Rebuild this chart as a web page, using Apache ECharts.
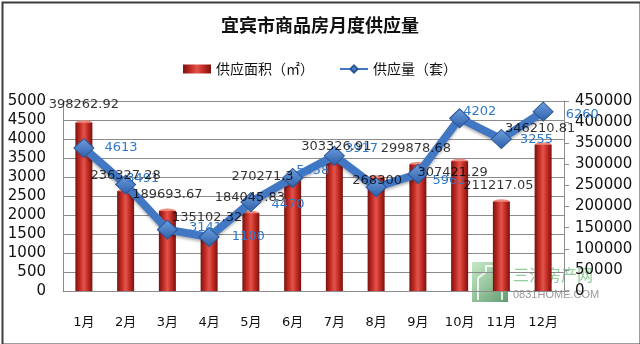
<!DOCTYPE html>
<html>
<head>
<meta charset="utf-8">
<script src="https://cdn.jsdelivr.net/npm/echarts@6/dist/echarts.min.js"></script>
<style>
  html, body { margin: 0; padding: 0; background: #fff; }
  #chart { width: 640px; height: 344px; }
</style>
</head>
<body>
<div id="chart"></div>
<script>
// Monthly categories
const months = ['1月', '2月', '3月', '4月', '5月', '6月', '7月', '8月', '9月', '10月', '11月', '12月'];

// Supply floor area (㎡), right axis
const areaValues = [398262.92, 236327.28, 189693.67, 135102.32, 184045.83, 270271.3,
                    303326.91, 268300, 299878.68, 307421.29, 211217.05, 346210.81];

// Supply units (套), plotted on the left axis
const unitValues = [3760, 2800, 1615, 1420, 2340, 2975, 3560, 2730, 3080, 4545, 4000, 4720];

// Unit counts printed beside the line markers
const unitLabels = ['4613', '3491', '3141', '1100', '4470', '5458', '3917', '', '5961', '4202', '3255', '6260'];

// Axis tick values
const leftTicks = [0, 500, 1000, 1500, 2000, 2500, 3000, 3500, 4000, 4500, 5000];
const rightTicks = [0, 50000, 100000, 150000, 200000, 250000, 300000, 350000, 400000, 450000];

// Label nudges (pixels) for crowded spots
const areaLabelShift = [[0, -2], [0, 0], [0, 0], [-2, 0], [-1, 0], [-30, 16], [2, 0], [1, 19], [-2, 0], [-7, 27], [-3, 0], [-3, 0]];
const unitLabelShift = [[0, 0], [-20, -6], [1, -2], [2, 0], [0, 3], [-17, -7], [-10, -7], [0, 0], [-6, 7], [-17, -7], [-2, 1], [2, 3]];

const NUM_FONT = '"DejaVu Sans", "Noto Sans CJK SC", sans-serif';
const CJK_FONT = '"Noto Sans CJK SC", sans-serif';

const chart = echarts.init(document.getElementById('chart'), null, { renderer: 'canvas' });

const barFill = new echarts.graphic.LinearGradient(0, 0, 1, 0, [
  { offset: 0, color: '#7a120e' },
  { offset: 0.28, color: '#c42d26' },
  { offset: 0.5, color: '#e2554b' },
  { offset: 0.72, color: '#c42d26' },
  { offset: 1, color: '#7a120e' }
]);

const diamondFill = new echarts.graphic.LinearGradient(0, 0, 0, 1, [
  { offset: 0, color: '#6f9fe0' },
  { offset: 1, color: '#2d5fa8' }
]);

const plainNumber = v => String(v);

const option = {
  animation: false,
  backgroundColor: '#ffffff',
  title: {
    text: '宜宾市商品房月度供应量',
    left: 'center',
    top: 16,
    padding: 0,
    textStyle: { fontFamily: CJK_FONT, fontSize: 18, fontWeight: 'bold', color: '#111' }
  },
  legend: {
    top: 62,
    left: 'center',
    padding: 0,
    itemGap: 25,
    itemWidth: 28,
    itemHeight: 9,
    data: [
      { name: '供应面积（㎡）', icon: 'rect' },
      { name: '供应量（套）' }
    ],
    textStyle: { fontFamily: CJK_FONT, fontSize: 14, color: '#111' }
  },
  grid: { left: 63, right: 76, top: 101, bottom: 53 },
  xAxis: {
    type: 'category',
    data: months,
    axisLine: { lineStyle: { color: '#8c8c8c' } },
    axisTick: { show: false },
    axisLabel: { margin: 25, fontSize: 13, color: '#111', fontFamily: NUM_FONT }
  },
  yAxis: [
    {
      type: 'value',
      min: leftTicks[0],
      max: leftTicks[leftTicks.length - 1],
      interval: leftTicks[1] - leftTicks[0],
      axisLine: { show: true, lineStyle: { color: '#8c8c8c' } },
      axisTick: { show: false },
      splitLine: { lineStyle: { color: '#8c8c8c' } },
      axisLabel: { margin: 17, fontSize: 15, color: '#111', fontFamily: NUM_FONT, formatter: plainNumber }
    },
    {
      type: 'value',
      position: 'right',
      min: rightTicks[0],
      max: rightTicks[rightTicks.length - 1],
      interval: rightTicks[1] - rightTicks[0],
      axisLine: { show: true, lineStyle: { color: '#8c8c8c' } },
      axisTick: { show: true, length: 5, lineStyle: { color: '#8c8c8c' } },
      splitLine: { show: false },
      axisLabel: { margin: 11, fontSize: 15, color: '#111', fontFamily: NUM_FONT, formatter: plainNumber }
    }
  ],
  series: [
    {
      name: '供应面积（㎡）',
      type: 'bar',
      yAxisIndex: 1,
      data: areaValues,
      barWidth: 17,
      itemStyle: { color: barFill },
      z: 2
    },
    {
      // lighter rounded cap on top of each column
      type: 'pictorialBar',
      yAxisIndex: 1,
      data: areaValues,
      symbol: 'circle',
      symbolSize: [17, 5],
      symbolPosition: 'end',
      symbolOffset: [0, '-50%'],
      itemStyle: { color: '#ee8a80' },
      silent: true,
      z: 2
    },
    {
      name: '供应量（套）',
      type: 'line',
      yAxisIndex: 0,
      data: unitValues.map((v, i) => ({
        value: v,
        label: { formatter: unitLabels[i], offset: unitLabelShift[i] }
      })),
      symbol: 'diamond',
      symbolSize: [20, 19],
      lineStyle: {
        width: 8,
        color: '#4277c3',
        shadowColor: 'rgba(0,0,0,0.3)',
        shadowBlur: 3,
        shadowOffsetY: 2
      },
      itemStyle: { color: diamondFill, borderColor: '#2a5696', borderWidth: 1 },
      label: {
        show: true,
        position: 'right',
        distance: 10,
        color: '#2f79c9',
        fontSize: 13,
        fontFamily: NUM_FONT
      },
      z: 3
    },
    {
      // value labels for the area columns, kept above the line
      type: 'scatter',
      yAxisIndex: 1,
      data: areaValues.map((v, i) => ({
        value: v,
        label: { offset: areaLabelShift[i] }
      })),
      symbolSize: 1,
      itemStyle: { color: 'rgba(0,0,0,0)' },
      label: {
        show: true,
        position: 'top',
        distance: 9,
        color: '#000',
        fontSize: 13,
        fontFamily: NUM_FONT,
        formatter: p => String(areaValues[p.dataIndex])
      },
      silent: true,
      z: 6
    }
  ],
  graphic: [
    {
      // site watermark
      type: 'group',
      left: 472,
      top: 262,
      silent: true,
      z: 10,
      children: [
        {
          type: 'rect',
          shape: { x: 0, y: 0, width: 36, height: 40 },
          style: {
            fill: new echarts.graphic.LinearGradient(0, 0, 1, 1, [
              { offset: 0, color: 'rgba(150,210,150,0.55)' },
              { offset: 1, color: 'rgba(40,120,60,0.75)' }
            ])
          }
        },
        {
          type: 'polyline',
          shape: { points: [[6, 38], [6, 16], [14, 10], [14, 4], [22, 4], [22, 14], [30, 18], [30, 38]] },
          style: { stroke: 'rgba(255,255,255,0.8)', lineWidth: 2, fill: null }
        },
        {
          type: 'text',
          x: 41,
          y: 5,
          style: { text: '三江房产网', fontFamily: CJK_FONT, fontSize: 16, fill: 'rgba(110,190,120,0.75)' }
        },
        {
          type: 'text',
          x: 41,
          y: 27,
          style: { text: '0831HOME.COM', fontFamily: '"Liberation Sans Narrow", "Liberation Sans", sans-serif', fontSize: 11, fill: 'rgba(120,120,120,0.75)' }
        }
      ]
    },
    {
      // outer frame
      type: 'rect',
      left: 0,
      top: 0,
      silent: true,
      z: 20,
      shape: { x: 1, y: 1, width: 638, height: 342 },
      style: { fill: null, stroke: '#3c3c3c', lineWidth: 2 }
    }
  ]
};

chart.setOption(option);
</script>
</body>
</html>
